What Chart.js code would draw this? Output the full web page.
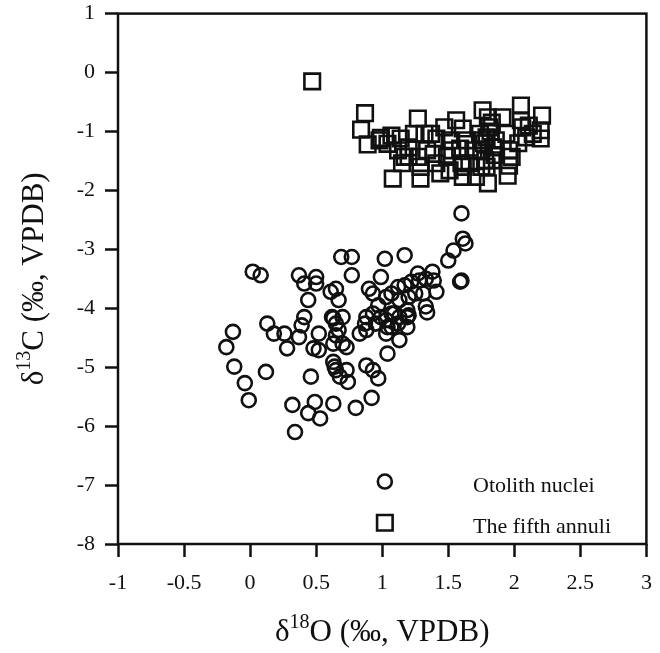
<!DOCTYPE html>
<html>
<head>
<meta charset="utf-8">
<script src="https://cdn.jsdelivr.net/npm/chart.js@4.4.1/dist/chart.umd.min.js"></script>
<style>
  html, body { margin: 0; padding: 0; background: #fff; }
  canvas { display: block; }
</style>
</head>
<body>
<canvas id="chart" width="660" height="653"></canvas>
<script>
// otolith nuclei: [d18O, d13C]
const nucleiPoints = [
  [-0.18,-4.66],[-0.13,-4.40],[-0.12,-4.99],[-0.04,-5.27],[-0.01,-5.56],[0.12,-5.08],[0.13,-4.26],[0.18,-4.43],
  [0.26,-4.43],[0.28,-4.68],[0.02,-3.38],[0.08,-3.44],[0.34,-6.10],[0.32,-5.64],[0.44,-5.78],[0.49,-5.59],
  [0.53,-5.87],[0.63,-5.62],[0.80,-5.69],[0.92,-5.52],[0.46,-5.16],[0.39,-4.29],[0.37,-4.49],[0.52,-4.43],
  [0.48,-4.68],[0.63,-4.17],[0.65,-4.46],[0.63,-4.91],[0.65,-5.05],[0.68,-5.16],[0.73,-5.05],[0.74,-5.25],
  [0.88,-4.97],[0.93,-5.05],[0.97,-5.19],[0.73,-4.66],[1.04,-4.77],[1.13,-4.54],[1.19,-4.32],[1.34,-4.07],
  [0.83,-4.43],[0.88,-4.37],[0.95,-4.26],[1.03,-4.20],[1.03,-4.43],[1.07,-4.32],[1.13,-4.15],[1.20,-4.12],
  [0.65,-4.26],[0.63,-4.60],[0.67,-4.37],[0.70,-4.60],[0.37,-3.44],[0.41,-3.58],[0.50,-3.47],[0.50,-3.58],
  [0.44,-3.86],[0.41,-4.15],[0.69,-3.13],[0.65,-3.67],[0.61,-3.72],[0.67,-3.86],[0.62,-4.15],[0.77,-3.13],
  [0.77,-3.44],[0.70,-4.15],[0.87,-4.26],[1.60,-2.39],[1.61,-2.82],[1.63,-2.90],[1.54,-3.02],[1.50,-3.19],
  [1.60,-3.53],[1.59,-3.55],[1.02,-3.16],[1.17,-3.10],[0.99,-3.47],[0.90,-3.67],[0.93,-3.75],[0.97,-3.95],
  [1.03,-3.81],[1.07,-3.75],[1.12,-3.64],[1.17,-3.61],[1.22,-3.55],[1.27,-3.41],[1.28,-3.53],[1.33,-3.50],
  [1.38,-3.38],[1.39,-3.53],[1.41,-3.72],[1.31,-3.75],[1.25,-3.75],[1.20,-3.81],[1.13,-3.86],[1.33,-3.97],
  [1.19,-4.03],[1.07,-4.09],[0.93,-4.09],[0.88,-4.15],[0.99,-4.15],[1.09,-4.09],[1.19,-4.15],[1.04,-4.32],
  [1.12,-4.26],[0.52,-4.71],[0.64,-4.99]
];

// the fifth annuli: [d18O, d13C]
const annuliPoints = [
  [0.47,-0.15],[0.87,-0.69],[0.84,-0.97],[0.89,-1.22],[0.99,-1.11],[1.07,-1.07],[1.14,-1.12],[1.27,-0.78],
  [1.20,-1.27],[1.15,-1.54],[1.08,-1.80],[1.29,-1.60],[1.29,-1.80],[1.41,-1.12],[1.41,-1.54],[1.47,-0.93],
  [1.44,-1.71],[1.56,-0.81],[1.61,-0.95],[1.59,-1.29],[1.60,-1.54],[1.61,-1.77],[1.71,-1.77],[1.69,-1.32],
  [1.76,-0.64],[1.80,-0.76],[1.79,-1.10],[1.78,-1.49],[1.80,-1.88],[1.81,-0.93],[1.84,-1.27],[1.91,-0.76],
  [1.94,-1.04],[1.96,-1.32],[1.95,-1.75],[1.98,-1.43],[2.05,-0.56],[2.05,-0.81],[2.09,-1.10],[2.21,-0.73],
  [2.20,-1.12],[2.03,-1.20],[2.11,-0.90],[1.24,-1.04],[1.32,-1.04],[1.37,-1.04],[1.20,-1.43],[1.34,-1.32],
  [1.39,-1.38],[1.51,-1.15],[1.53,-1.32],[1.64,-1.15],[1.74,-1.04],[1.75,-1.15],[1.75,-1.32],[1.75,-1.60],
  [1.83,-1.49],[1.86,-1.15],[1.04,-1.21],[0.98,-1.15],[1.12,-1.32],[1.17,-1.43],[1.27,-1.43],[1.49,-1.43],
  [1.51,-1.66],[1.61,-1.60],[1.66,-1.54],[1.96,-1.58],[2.06,-0.93],[2.14,-1.04],[2.20,-0.98],[1.82,-1.00],
  [1.85,-1.40],[1.79,-1.60],[1.83,-0.85],[1.77,-1.20]
];

const xTicks = [-1, -0.5, 0, 0.5, 1, 1.5, 2, 2.5, 3];
const yTicks = [1, 0, -1, -2, -3, -4, -5, -6, -7, -8];
const seriesNames = ['Otolith nuclei', 'The fifth annuli'];

const serif = "'Liberation Serif', 'Times New Roman', serif";
const ink = '#111';

const toXY = arr => arr.map(p => ({ x: p[0], y: p[1] }));

// frame on all four sides, axis titles with superscripts, legend inside the plot
const framePlugin = {
  id: 'frame',
  afterDraw(chart) {
    const { ctx, chartArea: a } = chart;
    ctx.save();
    ctx.strokeStyle = ink;
    ctx.lineWidth = 2.5;
    ctx.strokeRect(a.left, a.top, a.right - a.left, a.bottom - a.top);

    ctx.fillStyle = ink;
    ctx.textBaseline = 'alphabetic';
    const drawTitle = (parts, cx, cy, rot) => {
      ctx.save();
      ctx.translate(cx, cy);
      ctx.rotate(rot);
      let total = 0;
      parts.forEach(p => { ctx.font = p.size + 'px ' + serif; total += ctx.measureText(p.t).width; });
      let x = -total / 2;
      parts.forEach(p => {
        ctx.font = p.size + 'px ' + serif;
        ctx.fillText(p.t, x, p.dy);
        x += ctx.measureText(p.t).width;
      });
      ctx.restore();
    };
    drawTitle([{ t: 'δ', size: 31, dy: 10 }, { t: '18', size: 20, dy: -3 }, { t: 'O (‰, VPDB)', size: 31, dy: 10 }],
      (a.left + a.right) / 2, 631, 0);
    drawTitle([{ t: 'δ', size: 31, dy: 10 }, { t: '13', size: 20, dy: -3 }, { t: 'C (‰, VPDB)', size: 31, dy: 10 }],
      33, (a.top + a.bottom) / 2, -Math.PI / 2);

    const lx = chart.scales.x.getPixelForValue(1.02);
    const rows = [chart.scales.y.getPixelForValue(-6.94), chart.scales.y.getPixelForValue(-7.64)];
    chart.data.datasets.forEach((ds, i) => {
      ctx.strokeStyle = ds.borderColor;
      ctx.fillStyle = 'rgba(0,0,0,0)';
      ctx.lineWidth = ds.borderWidth;
      Chart.helpers.drawPoint(ctx, { pointStyle: ds.pointStyle, radius: ds.pointRadius, borderWidth: ds.borderWidth }, lx, rows[i]);
      ctx.fillStyle = ink;
      ctx.font = '22px ' + serif;
      ctx.textBaseline = 'alphabetic';
      ctx.fillText(ds.label, 473, rows[i] + 10);
    });
    ctx.restore();
  }
};

new Chart(document.getElementById('chart'), {
  type: 'scatter',
  data: {
    datasets: [
      {
        label: seriesNames[0],
        data: toXY(nucleiPoints),
        pointStyle: 'circle',
        pointRadius: 7,
        borderWidth: 2.6,
        borderColor: ink,
        backgroundColor: 'rgba(0,0,0,0)'
      },
      {
        label: seriesNames[1],
        data: toXY(annuliPoints),
        pointStyle: 'rect',
        pointRadius: 11,
        borderWidth: 2.6,
        borderColor: ink,
        backgroundColor: 'rgba(0,0,0,0)'
      }
    ]
  },
  options: {
    responsive: false,
    animation: false,
    events: [],
    layout: { padding: { top: 13, right: 8, left: 0, bottom: 0 } },
    plugins: { legend: { display: false }, tooltip: { enabled: false } },
    scales: {
      x: {
        type: 'linear', min: -1, max: 3,
        afterBuildTicks: s => { s.ticks = xTicks.map(v => ({ value: v })); },
        afterFit: s => { s.height = 109; s.paddingLeft = 0; s.paddingRight = 0; },
        border: { display: false },
        grid: { drawOnChartArea: false, drawTicks: true, tickLength: 13, tickColor: ink, tickWidth: 2.5 },
        ticks: { color: ink, font: { family: serif, size: 22 }, padding: 13, maxRotation: 0, autoSkip: false,
          callback: v => String(v) }
      },
      y: {
        type: 'linear', min: -8, max: 1,
        afterBuildTicks: s => { s.ticks = yTicks.map(v => ({ value: v })); },
        afterFit: s => { s.width = 118; s.paddingTop = 0; s.paddingBottom = 0; },
        border: { display: false },
        grid: { drawOnChartArea: false, drawTicks: true, tickLength: 13, tickColor: ink, tickWidth: 2.5 },
        ticks: { color: ink, font: { family: serif, size: 22 }, padding: 10, autoSkip: false,
          callback: v => String(v) }
      }
    }
  },
  plugins: [framePlugin]
});
</script>
</body>
</html>
